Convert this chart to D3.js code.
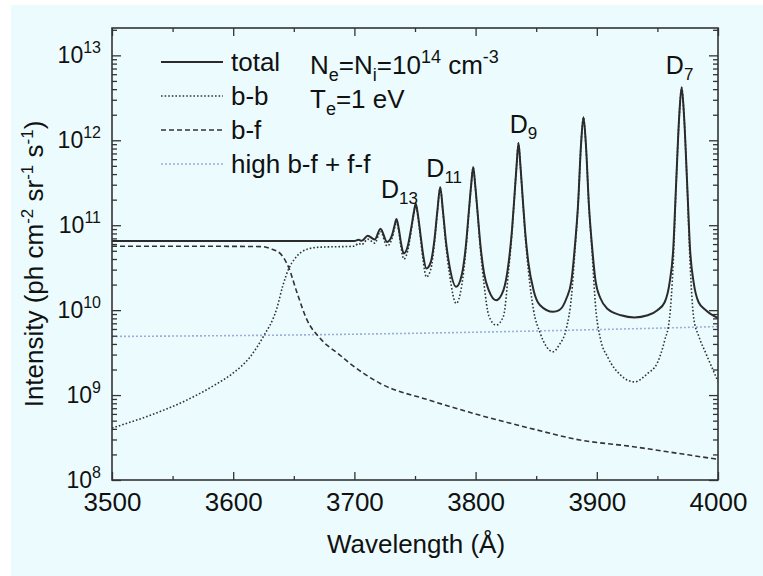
<!DOCTYPE html>
<html>
<head>
<meta charset="utf-8">
<script src="https://cdn.jsdelivr.net/npm/d3@7"></script>
<style>
    body { margin: 0; background: #fff; }
    svg { display: block; font-family: "Liberation Sans", Arial, Helvetica, sans-serif; }
</style>
</head>
<body>
<svg id="chart" width="763" height="576"></svg>
<script>
// values (wavelength in Å, intensity in ph cm^-2 sr^-1 s^-1)
const totalWl = [3500, 3600, 3700, 3703.5, 3706, 3711, 3716.8, 3721.5, 3727, 3731, 3733.2, 3734.7, 3736.5, 3738.6,
    3740.7, 3744, 3747, 3749, 3750.6, 3752.3, 3754.5, 3756.8, 3759.4, 3763, 3766, 3768.5, 3770.8, 3773, 3775.5,
    3778.5, 3784, 3788.5, 3792, 3794.5, 3796.3, 3798, 3799.7, 3801.5, 3804, 3807, 3811, 3817, 3823, 3827.2, 3830,
    3832, 3833.8, 3835.4, 3837, 3838.8, 3840.8, 3843.6, 3847.8, 3853, 3864, 3869, 3875, 3879, 3882, 3884.5, 3887,
    3889, 3891, 3893.5, 3896, 3899, 3903, 3909, 3920, 3931, 3942, 3950, 3956, 3960, 3963, 3965.5, 3968, 3970,
    3972, 3974.5, 3977, 3980, 3984, 3990, 4000];
const totalVal = [6.5e10, 6.5e10, 6.5e10, 6.75e10, 6.55e10, 7.5e10, 6.8e10, 9.1e10, 6.35e10, 7.6e10, 1.0e11, 1.18e11,
    9.3e10, 6.0e10, 4.65e10, 5.66e10, 9.5e10, 1.41e11, 1.8e11, 1.36e11, 7.8e10, 4.4e10, 3.09e10, 3.67e10, 6.66e10,
    1.5e11, 2.82e11, 1.5e11, 6.5e10, 3.3e10, 1.88e10, 2.57e10, 5.8e10, 1.5e11, 2.95e11, 4.85e11, 2.95e11, 1.5e11,
    5.8e10, 2.7e10, 1.7e10, 1.31e10, 1.72e10, 3.57e10, 8.7e10, 2.15e11, 5.0e11, 9.3e11, 5.0e11, 2.15e11, 8.7e10,
    3.57e10, 1.72e10, 1.15e10, 9.55e9, 1.0e10, 1.38e10, 2.19e10, 5.82e10, 1.72e11, 8.97e11, 1.87e12, 8.97e11,
    1.72e11, 5.82e10, 2.19e10, 1.38e10, 1.03e10, 8.7e9, 8.2e9, 8.7e9, 1.0e10, 1.24e10, 2.08e10, 5.08e10, 3.21e11,
    1.92e12, 4.2e12, 1.92e12, 3.21e11, 5.08e10, 2.08e10, 1.24e10, 1.0e10, 8.06e9];

const bbWl = [3500, 3531, 3560, 3585, 3600, 3614, 3624.5, 3636, 3641, 3646, 3651, 3661, 3671.5, 3700, 3703.5, 3706,
    3711, 3716.8, 3721.5, 3727, 3731, 3733.2, 3734.7, 3736.5, 3738.6, 3740.7, 3744, 3747, 3749, 3750.6, 3752.3,
    3754.5, 3756.8, 3759.4, 3763, 3766, 3768.5, 3770.8, 3773, 3775.5, 3778.5, 3784, 3788.5, 3792, 3794.5, 3796.3,
    3798, 3799.7, 3801.5, 3804, 3807, 3811, 3817, 3823, 3827.2, 3830, 3832, 3833.8, 3835.4, 3837, 3838.8, 3840.8,
    3843.6, 3847.8, 3853, 3864, 3869, 3875, 3879, 3882, 3884.5, 3887, 3889, 3891, 3893.5, 3896, 3899, 3903, 3909,
    3920, 3931, 3942, 3950, 3956, 3960, 3963, 3965.5, 3968, 3970, 3972, 3974.5, 3977, 3980, 3984, 3990, 4000];
const bbVal = [4.09e8, 5.75e8, 8.5e8, 1.32e9, 1.82e9, 2.82e9, 4.79e9, 1.05e10, 1.95e10, 3.12e10, 4.07e10, 5.22e10,
    5.51e10, 5.66e10, 6.1e10, 5.9e10, 6.85e10, 6.15e10, 8.45e10, 5.7e10, 6.95e10, 9.35e10, 1.115e11, 8.65e10,
    5.35e10, 4.0e10, 5.0e10, 8.85e10, 1.345e11, 1.735e11, 1.295e11, 7.15e10, 3.75e10, 2.46e10, 3.02e10, 6.0e10,
    1.435e11, 2.75e11, 1.435e11, 5.85e10, 2.65e10, 1.2e10, 1.93e10, 5.15e10, 1.435e11, 2.89e11, 4.79e11, 2.89e11,
    1.44e11, 5.2e10, 2.0e10, 8.5e9, 6.67e9, 8.5e9, 2.9e10, 8.1e10, 2.09e11, 4.94e11, 9.25e11, 4.94e11, 2.09e11,
    8.1e10, 2.9e10, 1.0e10, 5.5e9, 3.24e9, 3.9e9, 6.2e9, 1.4e10, 5.1e10, 1.66e11, 8.9e11, 1.865e12, 8.9e11,
    1.66e11, 5.1e10, 1.1e10, 4.6e9, 2.8e9, 1.7e9, 1.43e9, 1.8e9, 2.4e9, 4.4e9, 8.0e9, 3.5e10, 3.1e11, 1.91e12,
    4.19e12, 1.91e12, 3.1e11, 3.5e10, 8.0e9, 5.0e9, 3.1e9, 1.45e9];

const bfWl = [3500, 3560, 3624.5, 3632, 3638.5, 3646, 3652.5, 3661, 3671.5, 3688, 3696, 3721, 3762, 3803, 3844, 3886,
    3927, 3968, 4000];
const bfVal = [5.66e10, 5.66e10, 5.6e10, 5.2e10, 4.69e10, 3.12e10, 1.63e10, 7.62e9, 4.69e9, 2.96e9, 2.38e9, 1.38e9,
    8.7e8, 5.82e8, 4.1e8, 2.96e8, 2.5e8, 2.05e8, 1.75e8];

const ffWl = [3500, 3650, 3800, 3900, 4000];
const ffVal = [4.9e9, 5.1e9, 5.5e9, 5.9e9, 6.4e9];

const xTickValues = [3500, 3600, 3700, 3800, 3900, 4000];
const xMinorValues = [3550, 3650, 3750, 3850, 3950];
const yDecades = [8, 9, 10, 11, 12, 13];
const seriesNames = ['total', 'b-b', 'b-f', 'high b-f + f-f'];
const peakSubs = ['7', '9', '11', '13'];
const peakWl = [3970, 3835.4, 3770.8, 3734.7];

const plot = { left: 112, top: 28, right: 718, bottom: 480 };
const seriesStyle = [
    { color: '#2b2b2b', width: 2, dash: null },
    { color: '#333', width: 1.6, dash: '1.6,2' },
    { color: '#333', width: 1.6, dash: '5,3' },
    { color: '#9badde', width: 1.6, dash: '2,2' },
];
// label nudges around each peak: [dx, lift]
const peakLabelOffset = [[-2, 13], [5, 10], [4, 10], [3, 21]];

const svg = d3.select('#chart');
svg.append('rect')
    .attr('x', 11).attr('y', 5)
    .attr('width', 752).attr('height', 571)
    .attr('fill', '#ecfcfe');

const x = d3.scaleLinear([3500, 4000], [plot.left, plot.right]);
const y = d3.scaleLog([1e8, 2.1e13], [plot.bottom, plot.top]);

svg.append('clipPath').attr('id', 'plotClip')
    .append('rect')
    .attr('x', plot.left).attr('y', plot.top)
    .attr('width', plot.right - plot.left).attr('height', plot.bottom - plot.top);

const series = [[totalWl, totalVal], [bbWl, bbVal], [bfWl, bfVal], [ffWl, ffVal]]
    .map(([w, v]) => w.map((d, i) => [d, v[i]]));

const line = d3.line()
    .x(d => x(d[0]))
    .y(d => y(d[1]))
    .curve(d3.curveMonotoneX);

// draw back to front: f-f, b-f, b-b, total
[3, 2, 1, 0].forEach((i) => {
    svg.append('path')
        .attr('clip-path', 'url(#plotClip)')
        .attr('d', line(series[i]))
        .attr('fill', 'none')
        .attr('stroke', seriesStyle[i].color)
        .attr('stroke-width', seriesStyle[i].width)
        .attr('stroke-dasharray', seriesStyle[i].dash)
        .attr('stroke-linejoin', 'round');
});

// axes, ticks pointing inwards on all four sides
const tickColor = '#333';
function styleAxis(g) {
    g.select('.domain').remove();
    g.selectAll('line').attr('stroke', tickColor).attr('stroke-width', 1.3);
}

svg.append('g')
    .attr('transform', `translate(0,${plot.bottom})`)
    .call(d3.axisBottom(x).tickValues(xTickValues).tickSize(-8).tickPadding(13).tickFormat(d3.format('d')))
    .call(styleAxis)
    .call(g => g.selectAll('text').attr('font-size', 26).attr('fill', '#111')
        .attr('font-family', '"Liberation Sans", Arial, sans-serif'));
svg.append('g')
    .attr('transform', `translate(0,${plot.bottom})`)
    .call(d3.axisBottom(x).tickValues(xMinorValues).tickSize(-4).tickFormat(''))
    .call(styleAxis);
svg.append('g')
    .attr('transform', `translate(0,${plot.top})`)
    .call(d3.axisTop(x).tickValues(xTickValues).tickSize(-8).tickFormat(''))
    .call(styleAxis);
svg.append('g')
    .attr('transform', `translate(0,${plot.top})`)
    .call(d3.axisTop(x).tickValues(xMinorValues).tickSize(-4).tickFormat(''))
    .call(styleAxis);

const yMajor = yDecades.map(e => Math.pow(10, e));
const yMinor = [];
yDecades.forEach((e) => {
    for (let k = 2; k <= 9; k++) {
        const v = k * Math.pow(10, e);
        if (v <= y.domain()[1]) yMinor.push(v);
    }
});

[[d3.axisLeft, plot.left], [d3.axisRight, plot.right]].forEach(([axisFn, pos]) => {
    svg.append('g')
        .attr('transform', `translate(${pos},0)`)
        .call(axisFn(y).tickValues(yMajor).tickSize(-9).tickFormat(''))
        .call(styleAxis);
    svg.append('g')
        .attr('transform', `translate(${pos},0)`)
        .call(axisFn(y).tickValues(yMinor).tickSize(-5).tickFormat(''))
        .call(styleAxis);
});

yDecades.forEach((e) => {
    const t = svg.append('text')
        .attr('x', 101)
        .attr('y', y(Math.pow(10, e)) + 8)
        .attr('text-anchor', 'end')
        .attr('font-size', 23)
        .attr('fill', '#111');
    t.append('tspan').text('10');
    t.append('tspan').attr('font-size', 16).attr('dy', -10).text(e);
});

svg.append('rect')
    .attr('x', plot.left).attr('y', plot.top)
    .attr('width', plot.right - plot.left).attr('height', plot.bottom - plot.top)
    .attr('fill', 'none')
    .attr('stroke', '#333')
    .attr('stroke-width', 1.6);

// axis titles
svg.append('text')
    .attr('x', 416).attr('y', 553)
    .attr('text-anchor', 'middle')
    .attr('font-size', 26)
    .attr('fill', '#111')
    .text('Wavelength (Å)');

const yTitle = svg.append('text')
    .attr('transform', 'translate(43,264) rotate(-90)')
    .attr('text-anchor', 'middle')
    .attr('font-size', 26)
    .attr('fill', '#111');
[['Intensity (ph cm', 0], ['-2', -10], [' sr', 10], ['-1', -10], [' s', 10], ['-1', -10], [')', 10]]
    .forEach(([s, dy]) => {
        const sp = yTitle.append('tspan').attr('dy', dy).text(s);
        if (dy < 0) sp.attr('font-size', 17);
    });

// legend
seriesNames.forEach((name, i) => {
    const ly = 62 + i * 34;
    svg.append('line')
        .attr('x1', 161).attr('x2', 223)
        .attr('y1', ly).attr('y2', ly)
        .attr('stroke', seriesStyle[i].color)
        .attr('stroke-width', seriesStyle[i].width)
        .attr('stroke-dasharray', seriesStyle[i].dash);
    svg.append('text')
        .attr('x', 231).attr('y', ly + 9)
        .attr('font-size', 26)
        .attr('fill', '#111')
        .text(name);
});

// plasma conditions
function richText(xp, yp, parts) {
    const t = svg.append('text').attr('x', xp).attr('y', yp).attr('font-size', 26).attr('fill', '#111');
    let shift = 0;
    parts.forEach(([s, kind]) => {
        const target = kind === 'sub' ? 7 : kind === 'sup' ? -11 : 0;
        const sp = t.append('tspan').attr('dy', target - shift).text(s);
        if (kind) sp.attr('font-size', 18);
        shift = target;
    });
}
richText(310, 74, [['N'], ['e', 'sub'], ['=N'], ['i', 'sub'], ['=10'], ['14', 'sup'], [' cm'], ['-3', 'sup']]);
richText(310, 108, [['T'], ['e', 'sub'], ['=1 eV']]);

// line identifications
peakWl.forEach((wl, i) => {
    const peak = totalVal[totalWl.indexOf(wl)];
    const [dx, lift] = peakLabelOffset[i];
    const t = svg.append('text')
        .attr('x', x(wl) + dx)
        .attr('y', y(peak) - lift)
        .attr('text-anchor', 'middle')
        .attr('font-size', 25)
        .attr('fill', '#111');
    t.append('tspan').text('D');
    t.append('tspan').attr('font-size', 17).attr('dy', 6).text(peakSubs[i]);
});
</script>
</body>
</html>
